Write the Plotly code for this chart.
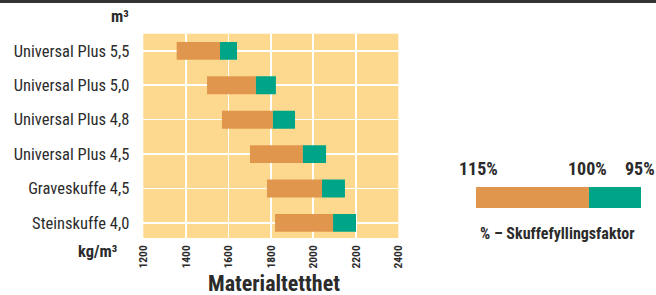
import plotly.graph_objects as go

categories = ["Universal Plus 5,5", "Universal Plus 5,0", "Universal Plus 4,8",
              "Universal Plus 4,5", "Graveskuffe 4,5", "Steinskuffe 4,0"]
density_115 = [1357, 1500, 1570, 1702, 1782, 1820]
density_100 = [1561, 1730, 1810, 1951, 2041, 2093]
density_95 = [1641, 1824, 1914, 2060, 2149, 2201]
x_ticks = [1200, 1400, 1600, 1800, 2000, 2200, 2400]
legend_labels = ["115%", "100%", "95%"]

ORANGE = "#E0974D"
GREEN = "#00A587"
BG = "#FDD98F"
TXT = "#2b2b2b"
FONT = "Liberation Sans Narrow, Roboto Condensed, Arial Narrow, Liberation Sans, sans-serif"

fig = go.Figure()
fig.add_trace(go.Bar(
    y=categories, x=[b - a for a, b in zip(density_115, density_100)], base=density_115,
    orientation="h", marker=dict(color=ORANGE, line=dict(width=0)), width=0.52,
    showlegend=False, hoverinfo="skip"))
fig.add_trace(go.Bar(
    y=categories, x=[b - a for a, b in zip(density_100, density_95)], base=density_100,
    orientation="h", marker=dict(color=GREEN, line=dict(width=0)), width=0.52,
    showlegend=False, hoverinfo="skip"))

W, H = 656, 295
px = lambda v: v / W
py = lambda v: 1 - v / H

fig.update_layout(
    width=W, height=H, margin=dict(l=0, r=0, t=0, b=0, autoexpand=False),
    paper_bgcolor="white", plot_bgcolor=BG, barmode="overlay",
    font=dict(family=FONT, color=TXT),
    xaxis=dict(domain=[px(143.3), px(398.3)], range=[1200, 2400], tickvals=x_ticks,
               ticktext=[str(t) for t in x_ticks], tickangle=-90, automargin=False,
               tickfont=dict(size=11.5, family=FONT, color=TXT, weight="bold"),
               showgrid=True, gridcolor="white", gridwidth=1.6, zeroline=False,
               showline=False, ticks="", ticklabelstandoff=4, fixedrange=True),
    yaxis=dict(domain=[py(238), py(33.7)], type="category", range=[5.44, -0.5],
               showgrid=True, gridcolor="white", gridwidth=1.6, zeroline=False,
               automargin=False,
               tickfont=dict(size=16.5, family=FONT, color=TXT), ticks="",
               ticklabelstandoff=13, fixedrange=True),
    shapes=[
        dict(type="rect", xref="paper", yref="paper", x0=0, x1=1, y0=py(3), y1=1,
             fillcolor="#333333", line=dict(width=0), layer="above"),
        dict(type="rect", xref="paper", yref="paper", x0=px(476), x1=px(589),
             y0=py(208), y1=py(187), fillcolor=ORANGE, line=dict(width=0)),
        dict(type="rect", xref="paper", yref="paper", x0=px(589), x1=px(641),
             y0=py(208), y1=py(187), fillcolor=GREEN, line=dict(width=0)),
    ],
)

bold = lambda s: dict(size=s, family=FONT, color=TXT, weight="bold")
ann = [
    dict(text="m³", x=px(131), y=py(17), xanchor="right", yanchor="middle", font=bold(16.5)),
    dict(text="kg/m³", x=px(119), y=py(251), xanchor="right", yanchor="middle", font=bold(16.5)),
    dict(text="Materialtetthet", x=px(274), y=py(283), xanchor="center", yanchor="middle", font=bold(22)),
    dict(text=legend_labels[0], x=px(478), y=py(168), xanchor="center", yanchor="middle", font=bold(18)),
    dict(text=legend_labels[1], x=px(587), y=py(168), xanchor="center", yanchor="middle", font=bold(18)),
    dict(text=legend_labels[2], x=px(640), y=py(168), xanchor="center", yanchor="middle", font=bold(18)),
    dict(text="% – Skuffefyllingsfaktor", x=px(557), y=py(233), xanchor="center", yanchor="middle", font=bold(16)),
]
for a in ann:
    a.update(xref="paper", yref="paper", showarrow=False)
fig.update_layout(annotations=ann)

fig.write_html("out.html", config={"displayModeBar": False, "staticPlot": True},
               post_script="document.body.style.margin='0';document.body.style.overflow='hidden';")
